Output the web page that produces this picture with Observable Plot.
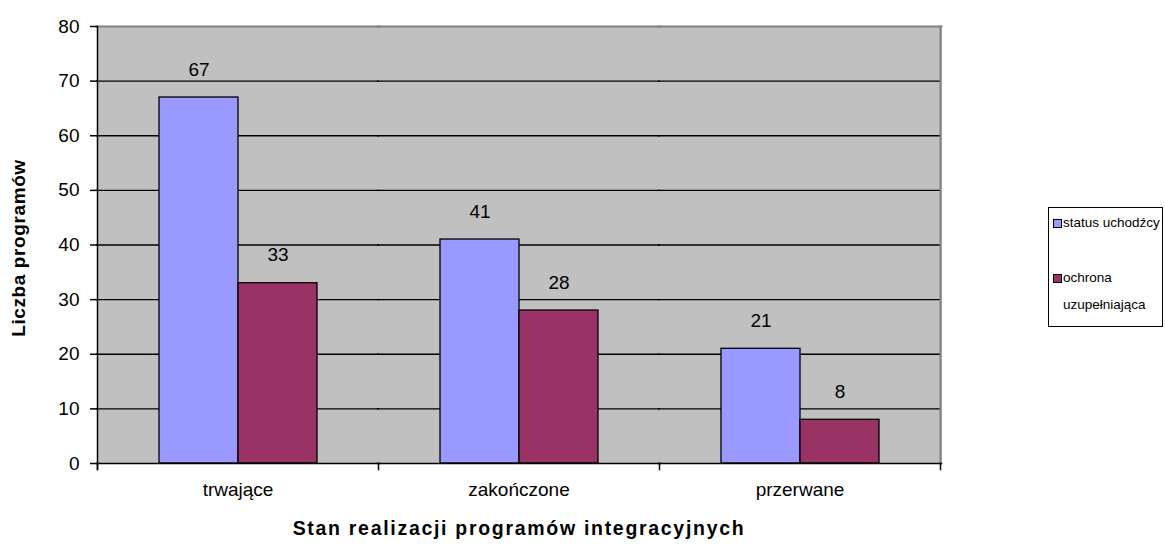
<!DOCTYPE html>
<html><head><meta charset="utf-8">
<script src="https://cdn.jsdelivr.net/npm/d3@7"></script>
<script src="https://cdn.jsdelivr.net/npm/@observablehq/plot@0.6"></script>
<style>
body{margin:0;background:#fff;font-family:"Liberation Sans",Arial,sans-serif;}
#wrap{position:relative;width:1165px;height:545px;overflow:hidden;}
#legend{position:absolute;left:1048px;top:207px;width:115px;height:120px;border:1px solid #000;box-sizing:border-box;font-size:13.5px;color:#000;}
.sw{position:absolute;left:4px;width:7px;height:7px;border:1px solid #000;}
.lab{position:absolute;left:14px;white-space:nowrap;line-height:17px;}
#ytitle{position:absolute;left:19px;top:248px;transform:translate(-50%,-50%) rotate(-90deg);font-weight:bold;font-size:19px;white-space:nowrap;letter-spacing:0.6px;}
#xtitle{position:absolute;left:519px;top:528px;transform:translate(-50%,-50%);font-weight:bold;font-size:19.5px;white-space:nowrap;letter-spacing:1.7px;}
</style>
</head><body>
<div id="wrap">
<div id="chart"></div>
<div id="ytitle"></div>
<div id="xtitle"></div>
<div id="legend"></div>
</div>
<script>
const categories = ["trwające", "zakończone", "przerwane"];
const seriesNames = ["status uchodźcy", "ochrona uzupełniająca"];
const statusValues = [67, 41, 21];
const ochronaValues = [33, 28, 8];
const seriesColors = ["#9999FF", "#993366"];
const yTicks = [0, 10, 20, 30, 40, 50, 60, 70, 80];
const yTitle = "Liczba programów";
const xTitle = "Stan realizacji programów integracyjnych";

const data = [];
categories.forEach((c, i) => {
  data.push({cat: c, series: seriesNames[0], value: statusValues[i]});
  data.push({cat: c, series: seriesNames[1], value: ochronaValues[i]});
});

const W = 1165, H = 545;
const mTop = 26, mBottom = 82, mLeft = 97, mRight = 225;
const plotH = H - mTop - mBottom;

const chart = Plot.plot({
  width: W, height: H,
  marginTop: mTop, marginBottom: mBottom, marginLeft: mLeft, marginRight: mRight,
  style: {fontFamily: '"Liberation Sans", Arial, sans-serif', fontSize: "19px", color: "#000", background: "transparent"},
  fx: {domain: categories, padding: 0, axis: null},
  x: {domain: seriesNames, paddingInner: 0, paddingOuter: 0.758, axis: null},
  y: {domain: [0, 80], axis: null},
  color: {domain: seriesNames, range: seriesColors},
  marks: [
    Plot.frame({fill: "#C0C0C0", insetLeft: -1, insetRight: -1, shapeRendering: "crispEdges"}),
    Plot.ruleY(yTicks.filter(t => t > 0 && t < 80), {stroke: "#000", strokeWidth: 1.3, insetLeft: -1, insetRight: -1}),
    Plot.frame({anchor: "top", stroke: "#808080", strokeWidth: 2, insetLeft: -1, insetRight: -1}),
    Plot.frame({anchor: "right", stroke: "#808080", strokeWidth: 2, facetAnchor: "right"}),
    Plot.barY(data, {fx: "cat", x: "series", y: "value", fill: "series", stroke: "#000", strokeWidth: 1.3}),
    Plot.text(data, {fx: "cat", x: "series", y: "value", text: d => String(d.value), dy: -28, fontSize: 19, fill: "#000"}),
    Plot.frame({anchor: "bottom", stroke: "#000", strokeWidth: 1.5, insetLeft: -1, insetRight: -1}),
    Plot.frame({anchor: "left", stroke: "#000", strokeWidth: 1.5, insetBottom: -6, facetAnchor: "left"}),
    Plot.frame({anchor: "left", stroke: "#000", strokeWidth: 1.5, insetTop: plotH, insetBottom: -6}),
    Plot.frame({anchor: "right", stroke: "#000", strokeWidth: 1.5, insetTop: plotH, insetBottom: -6, facetAnchor: "right"}),
    Plot.axisY({ticks: yTicks, tickSize: 7, tickPadding: 11, fontSize: 19, label: null, strokeWidth: 1.5}),
    Plot.axisFx({anchor: "bottom", tickSize: 0, tickPadding: 19, fontSize: 19, label: null, style: {letterSpacing: "0.8px"}})
  ]
});
document.getElementById("chart").appendChild(chart);
document.getElementById("ytitle").textContent = yTitle;
document.getElementById("xtitle").textContent = xTitle;

const legend = document.getElementById("legend");
const swTops = [11, 66];
const labTops = [6, 61];
seriesNames.forEach((s, i) => {
  const sw = document.createElement("div");
  sw.className = "sw";
  sw.style.top = swTops[i] + "px";
  sw.style.background = seriesColors[i];
  const lab = document.createElement("div");
  lab.className = "lab";
  lab.style.top = labTops[i] + "px";
  if (i === 1) {
    lab.innerHTML = "ochrona<br>uzupełniająca";
    lab.style.lineHeight = "27px";
    lab.style.top = (labTops[i] - 5) + "px";
  } else {
    lab.textContent = s;
  }
  legend.appendChild(sw);
  legend.appendChild(lab);
});
</script>
</body></html>
